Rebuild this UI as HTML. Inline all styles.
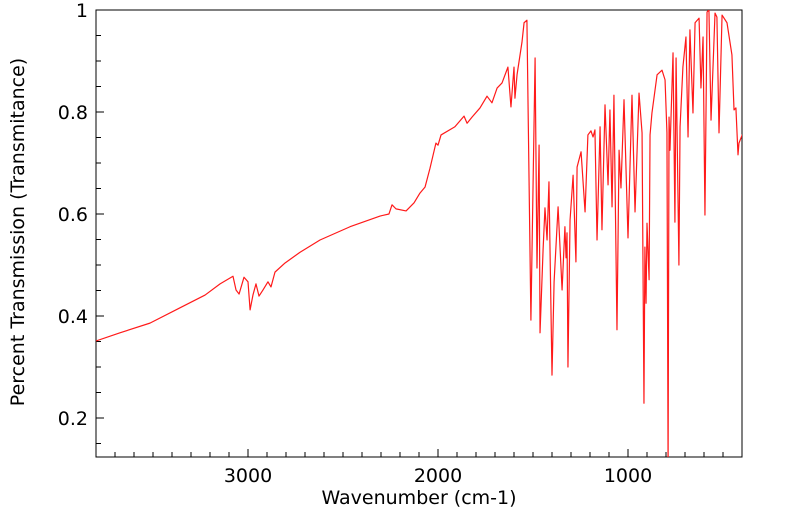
<!DOCTYPE html>
<html><head><meta charset="utf-8"><style>
html,body{margin:0;padding:0;background:#fff;}
svg{display:block;font-family:"DejaVu Sans","Liberation Sans",sans-serif;}
</style></head><body>
<svg id="chart" width="799" height="516" viewBox="0 0 799 516" xmlns="http://www.w3.org/2000/svg">
<defs><clipPath id="plotclip"><rect x="96" y="10" width="646" height="447"/></clipPath></defs>
<rect x="96" y="10" width="646" height="447" fill="#fff" stroke="#000" stroke-width="1"/>
<g id="xticks"></g>
<g id="yticks"></g>
<g clip-path="url(#plotclip)"><path id="spec" fill="none" stroke="#ff1a1a" stroke-width="1.2" stroke-linejoin="round"/></g>
<text x="419" y="504" font-size="19" text-anchor="middle">Wavenumber (cm-1)</text>
<text transform="translate(24,232) rotate(-90)" font-size="19" text-anchor="middle">Percent Transmission (Transmitance)</text>
</svg>
<script>
const wavenumbers = [3800,3674,3516,3358,3226,3147,3079,3063,3047,3021,3000,2989,2974,2958,2942,2921,2895,2879,2858,2805,2726,2621,2463,2305,2258,2242,2221,2168,2126,2095,2068,2042,2011,2000,1984,1911,1863,1847,1821,1779,1742,1716,1689,1663,1632,1616,1600,1595,1584,1558,1547,1532,1511,1489,1479,1468,1463,1447,1437,1426,1416,1400,1389,1368,1347,1332,1326,1321,1316,1305,1289,1274,1268,1247,1226,1211,1195,1184,1174,1163,1147,1137,1121,1105,1095,1084,1074,1058,1047,1037,1021,1000,979,963,942,926,916,911,905,900,889,884,874,847,821,805,795,789,784,779,763,753,747,732,726,711,695,684,674,658,647,626,616,605,595,584,574,563,542,532,521,505,479,453,442,432,421,416,395];
const transmittance = [0.351,0.367,0.386,0.416,0.441,0.463,0.478,0.451,0.443,0.476,0.467,0.412,0.441,0.463,0.439,0.451,0.467,0.457,0.486,0.504,0.525,0.549,0.575,0.596,0.600,0.618,0.610,0.606,0.622,0.641,0.653,0.690,0.739,0.735,0.755,0.771,0.792,0.778,0.790,0.808,0.831,0.818,0.847,0.857,0.888,0.810,0.888,0.827,0.873,0.937,0.975,0.980,0.392,0.906,0.494,0.735,0.367,0.529,0.612,0.549,0.663,0.284,0.467,0.614,0.451,0.575,0.514,0.563,0.300,0.588,0.676,0.506,0.692,0.722,0.604,0.755,0.763,0.751,0.765,0.549,0.771,0.569,0.814,0.657,0.804,0.614,0.833,0.373,0.725,0.651,0.824,0.553,0.833,0.604,0.837,0.759,0.229,0.535,0.425,0.582,0.471,0.755,0.798,0.873,0.882,0.863,0.759,0.100,0.790,0.725,0.916,0.584,0.906,0.500,0.771,0.888,0.947,0.751,0.961,0.798,0.975,0.984,0.847,0.947,0.598,0.996,1.000,0.784,0.994,0.986,0.759,0.990,0.975,0.912,0.804,0.808,0.716,0.739,0.759];
const xMajorTicks = [3000,2000,1000];
const yMajorTicks = [0.2,0.4,0.6,0.8,1];
const yTickLabels = ["0.2","0.4","0.6","0.8","1"];

const X0=96,X1=742,Y0=10,Y1=457;
const WMAX=3800,WMIN=400,TMIN=0.1235,TMAX=1.0;
function xs(w){return X0+(WMAX-w)/(WMAX-WMIN)*(X1-X0);}
function ys(t){return Y1-(t-TMIN)/(TMAX-TMIN)*(Y1-Y0);}
const NS="http://www.w3.org/2000/svg";
function mk(tag,attrs,parent){const e=document.createElementNS(NS,tag);for(const k in attrs)e.setAttribute(k,attrs[k]);parent.appendChild(e);return e;}

let d="";
for(let i=0;i<wavenumbers.length;i++){d+=(i?"L":"M")+xs(wavenumbers[i]).toFixed(2)+","+ys(transmittance[i]).toFixed(2);}
document.getElementById("spec").setAttribute("d",d);

const xg=document.getElementById("xticks");
for(let w=3700;w>=500;w-=100){
  const major=xMajorTicks.includes(w);
  const t=mk("line",{x1:xs(w),x2:xs(w),y1:Y1,y2:Y1-(major?8:5),stroke:"#000","stroke-width":1},xg);
  
  
}
xMajorTicks.forEach(w=>{
  const t=mk("text",{x:xs(w),y:Y1+25,"font-size":19,"text-anchor":"middle"},xg);
  t.textContent=String(w);
  
  
});
const yg=document.getElementById("yticks");
for(let k=3;k<=19;k++){
  const v=k*0.05;const major=(k%4===0);
  const t=mk("line",{x1:X0,x2:X0+(major?8:5),y1:ys(v),y2:ys(v),stroke:"#000","stroke-width":1},yg);
  
  
}
yMajorTicks.forEach((v,i)=>{
  const t=mk("text",{x:X0-8,y:ys(v)+7,"font-size":19,"text-anchor":"end"},yg);
  t.textContent=yTickLabels[i];
  
  
});
</script>
</body></html>
